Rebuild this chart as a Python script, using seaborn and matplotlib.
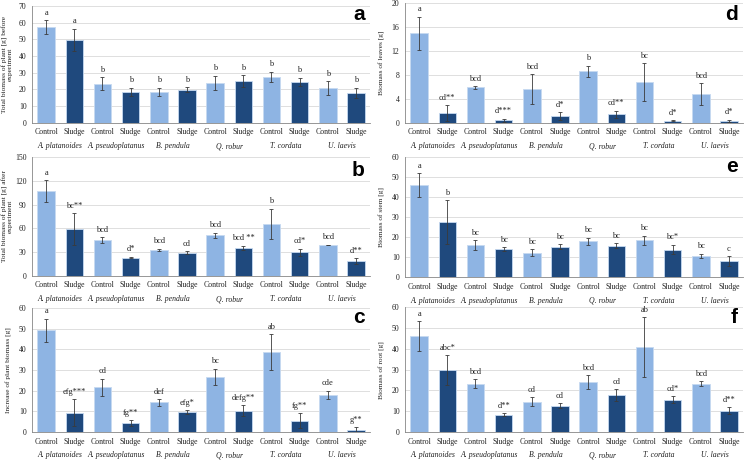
import matplotlib
matplotlib.use("Agg")
import matplotlib.pyplot as plt
import seaborn as sns
import pandas as pd
import numpy as np

species = ["A. platanoides", "A. pseudoplatanus", "B. pendula", "Q. robur", "T. cordata", "U. laevis"]
treatments = ["Control", "Sludge"]

# values ordered: species1 Control, species1 Sludge, species2 Control, ...
a_vals = [57.5, 49.8, 23.5, 18.5, 18.5, 19.8, 24.0, 25.0, 27.7, 24.5, 21.0, 18.0]
a_err = [4.0, 6.7, 4.0, 2.5, 2.5, 1.5, 4.3, 3.5, 3.0, 2.5, 4.0, 3.0]
a_let = ["a", "a", "b", "b", "b", "b", "b", "b", "b", "b", "b", "b"]

b_vals = [107, 59, 45, 23, 32.5, 29, 51, 35, 66, 29.5, 39, 18.5]
b_err = [14, 20, 3.5, 1, 1.5, 2, 3.5, 3, 19, 5, 0.5, 4]
b_let = ["a", "bc**", "bcd", "d*", "bcd", "cd", "bcd", "bcd **", "b", "cd*", "bcd", "d**"]

c_vals = [49.2, 9.3, 21.6, 4.3, 14.3, 9.5, 26.7, 10.3, 38.7, 5.5, 18.0, 0.8]
c_err = [5.6, 6.5, 4.3, 1.5, 1.6, 1.0, 4.0, 2.7, 8.6, 3.5, 2.0, 1.6]
c_let = ["a", "efg***", "cd", "fg**", "def", "efg*", "bc", "defg**", "ab", "fg**", "cde", "g**"]

d_vals = [14.9, 1.6, 5.9, 0.45, 5.6, 1.1, 8.6, 1.4, 6.8, 0.35, 4.8, 0.3]
d_err = [2.8, 1.3, 0.2, 0.25, 2.5, 0.7, 0.9, 0.6, 3.1, 0.1, 1.8, 0.2]
d_let = ["a", "cd**", "bcd", "d***", "bcd", "d*", "b", "cd**", "bc", "d*", "bcd", "d*"]

e_vals = [46, 27.5, 16, 14, 12.3, 15.2, 18, 15.7, 18.5, 13.8, 10.8, 8]
e_err = [6, 11, 2.5, 1, 1.7, 1.2, 1.7, 1.3, 2.2, 2.3, 1, 2.5]
e_let = ["a", "b", "bc", "bc", "bc", "bc", "bc", "bc", "bc", "bc*", "bc", "c"]

f_vals = [46, 29.8, 23.3, 8.3, 14.6, 12.7, 24.1, 17.7, 40.8, 15.6, 23.2, 10.3]
f_err = [7.2, 7.2, 2.0, 0.7, 2.2, 1.2, 3.2, 2.8, 14.3, 1.6, 1.2, 1.6]
f_let = ["a", "abc*", "bcd", "d**", "cd", "cd", "bcd", "cd", "ab", "cd*", "bcd", "d**"]

panels = [
    ("a", a_vals, a_err, a_let, 70, 10, "Total biomass of plant [g] before\nexperiment"),
    ("b", b_vals, b_err, b_let, 150, 30, "Total biomass of plant [g] after\nexperiment"),
    ("c", c_vals, c_err, c_let, 60, 10, "Increase of plant biomass [g]"),
    ("d", d_vals, d_err, d_let, 20, 4, "Biomass of leaves [g]"),
    ("e", e_vals, e_err, e_let, 60, 10, "Biomass of stem [g]"),
    ("f", f_vals, f_err, f_let, 60, 10, "Biomass of root [g]"),
]

# axes rectangles [left, bottom, width, height] in figure fraction
rects = {
    "a": [0.043, 0.734, 0.453, 0.253],
    "b": [0.043, 0.403, 0.453, 0.257],
    "c": [0.043, 0.065, 0.453, 0.268],
    "d": [0.543, 0.734, 0.453, 0.260],
    "e": [0.543, 0.400, 0.453, 0.260],
    "f": [0.543, 0.065, 0.453, 0.270],
}
letter_y = {"a": 0.88, "b": 0.84, "c": 0.88, "d": 0.86, "e": 0.875, "f": 0.87}
label_x = {"a": -0.058, "b": -0.058, "c": -0.058, "d": -0.06, "e": -0.06, "f": -0.06}

palette = {"Control": "#8EB4E3", "Sludge": "#1F497D"}
serif = ["Liberation Serif", "DejaVu Serif"]

sns.set_style("white")
plt.rcParams["font.family"] = serif

fig = plt.figure(figsize=(7.46, 4.62), dpi=100)

for key, vals, errs, lets, ymax, ystep, ylabel in panels:
    ax = fig.add_axes(rects[key])
    keys = [f"{s}|{t}" for s in species for t in treatments]
    df = pd.DataFrame({
        "key": keys,
        "treatment": [t for s in species for t in treatments],
        "value": vals,
    })
    sns.barplot(data=df, x="key", y="value", hue="treatment", palette=palette,
                dodge=False, width=0.62, errorbar=None, legend=False, ax=ax,
                order=keys, linewidth=0.6, edgecolor="#C6D9F1", saturation=1)
    # bar centres from seaborn's bar patches
    bars = [p for p in ax.patches if p.get_height() > 0 or p.get_width() > 0]
    centers = {}
    for p in bars:
        cx = p.get_x() + p.get_width() / 2
        centers[round(cx)] = (cx, p.get_height())
    xs = [centers[k][0] for k in sorted(centers)]
    ax.errorbar(xs, vals, yerr=errs, fmt="none", ecolor="#3a3a3a",
                elinewidth=0.6, capsize=1.2, capthick=0.6, zorder=5)
    for x, v, e, l in zip(xs, vals, errs, lets):
        ax.annotate(l, xy=(x, v + e), xytext=(0, 2.5), textcoords="offset points",
                    ha="center", va="bottom", fontsize=6, color="#222222")

    ax.set_ylim(0, ymax)
    ax.set_xlim(-0.5, len(keys) - 0.5)
    ax.set_yticks(np.arange(0, ymax + ystep / 2, ystep))
    ax.yaxis.grid(True, color="#D9D9D9", linewidth=0.6)
    ax.set_axisbelow(True)
    ax.set_xticks(range(len(keys)))
    ax.set_xticklabels([t for s in species for t in treatments], fontsize=5.6)
    ax.set_xticks(np.arange(-0.5, len(keys), 1.0), minor=True)
    ax.tick_params(axis="x", which="major", length=0, pad=4, colors="#222222")
    ax.tick_params(axis="x", which="minor", length=3, width=0.6, color="#868686")
    ax.tick_params(axis="y", which="major", length=2.5, width=0.6, color="#868686",
                   labelsize=5.6, pad=1.5, labelcolor="#222222")
    ax.set_xlabel("")
    ax.set_ylabel(ylabel, fontsize=5.3, color="#222222", linespacing=0.9)
    ax.yaxis.set_label_coords(label_x[key], 0.5)
    for sp in ["top", "right"]:
        ax.spines[sp].set_visible(False)
    for sp in ["left", "bottom"]:
        ax.spines[sp].set_color("#868686")
        ax.spines[sp].set_linewidth(0.6)

    for i, s in enumerate(species):
        ax.annotate(s, xy=(2 * i + 0.5, 0), xycoords=("data", "axes fraction"),
                    xytext=(0, -14), textcoords="offset points", ha="center",
                    va="top", fontsize=5.6, style="italic", color="#222222")

    ax.text(0.985, letter_y[key], key, transform=ax.transAxes, ha="right",
            va="baseline", fontsize=15, fontweight="bold",
            family=["Liberation Sans", "DejaVu Sans"], color="black")

fig.savefig("out.png", dpi=100)
